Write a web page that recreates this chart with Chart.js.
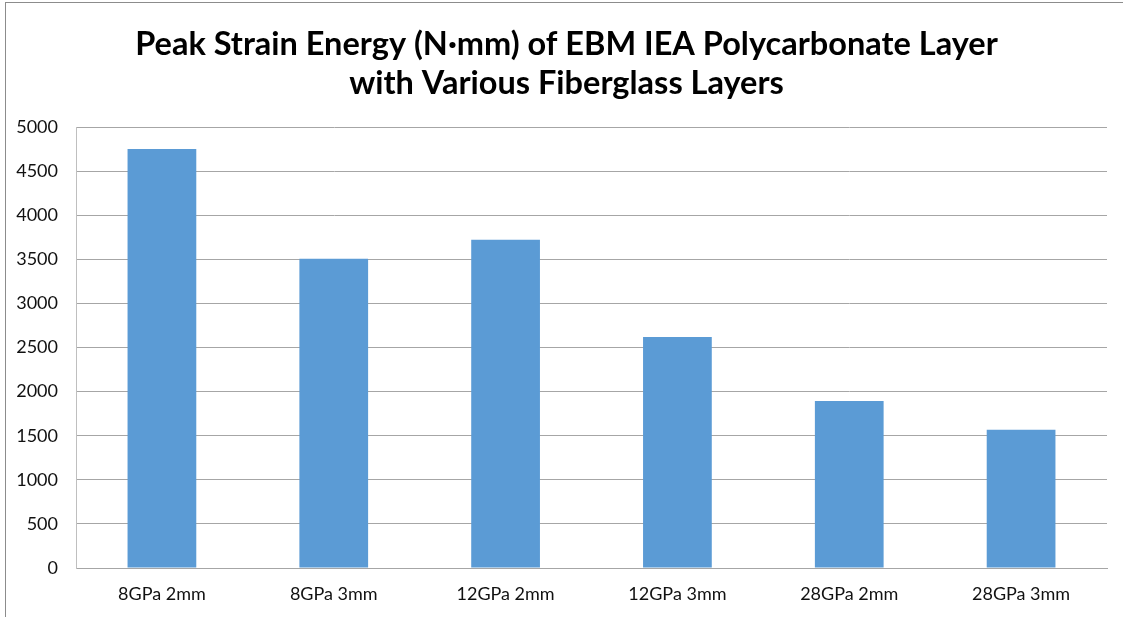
<!DOCTYPE html>
<html>
<head>
<meta charset="utf-8">
<script src="https://cdn.jsdelivr.net/npm/chart.js@4"></script>
<style>
  html, body { margin: 0; padding: 0; background: #fff; }
  #wrap { position: relative; width: 1123px; height: 617px; overflow: hidden; }
  #frame { position: absolute; left: 5px; top: 2px; width: 1200px; height: 700px;
           border-top: 1px solid #8c8c8c; border-left: 1px solid #8c8c8c; pointer-events: none; }
  canvas { position: absolute; left: 0; top: 0; }
</style>
</head>
<body>
<div id="wrap">
  <canvas id="c" width="1123" height="617"></canvas>
  <div id="frame"></div>
</div>
<script>
const categories = ["8GPa 2mm", "8GPa 3mm", "12GPa 2mm", "12GPa 3mm", "28GPa 2mm", "28GPa 3mm"];
const peakStrainEnergy = [4750, 3507, 3722, 2619, 1893, 1568];
const yTicks = [0, 500, 1000, 1500, 2000, 2500, 3000, 3500, 4000, 4500, 5000];
const titleLines = ["Peak Strain Energy (N\u00b7mm) of EBM IEA Polycarbonate Layer", "with Various Fiberglass Layers"];

const fontFam = "Lato, 'Open Sans', 'Liberation Sans', sans-serif";

new Chart(document.getElementById('c'), {
  type: 'bar',
  data: {
    labels: categories,
    datasets: [{
      data: peakStrainEnergy,
      backgroundColor: '#5b9bd5',
      borderWidth: 0,
      barPercentage: 0.4,
      categoryPercentage: 1.0
    }]
  },
  options: {
    responsive: false,
    animation: false,
    layout: { padding: { left: 13, right: 3, top: 0, bottom: 0 } },
    plugins: {
      legend: { display: false },
      tooltip: { enabled: false },
      title: {
        display: true,
        text: titleLines,
        color: '#000',
        font: { family: fontFam, size: 32.5, weight: 'bold', lineHeight: 1.17 },
        padding: { top: 26, bottom: 25 }
      }
    },
    scales: {
      x: {
        grid: { display: false, drawTicks: false },
        border: { display: true, color: '#a6a6a6', width: 1 },
        ticks: { color: '#111', font: { family: fontFam, size: 18 }, padding: 15 },
        afterFit: (s) => { s.height = 49; }
      },
      y: {
        min: 0, max: 5000,
        afterBuildTicks: (s) => { s.ticks = yTicks.map(v => ({ value: v })); },
        afterFit: (s) => { s.width = 63; },
        grid: { color: '#a6a6a6', drawTicks: false, lineWidth: 1 },
        border: { display: true, color: '#bfbfbf', width: 1 },
        ticks: { color: '#111', font: { family: fontFam, size: 18 }, padding: 18,
                 callback: (v) => String(v) }
      },
      y2: {
        position: 'right',
        display: true,
        min: 0, max: 5000,
        grid: { display: false, drawOnChartArea: false, drawTicks: false },
        border: { display: false },
        ticks: { display: false },
        afterFit: (s) => { s.width = 13; }
      }
    }
  }
});
</script>
</body>
</html>
